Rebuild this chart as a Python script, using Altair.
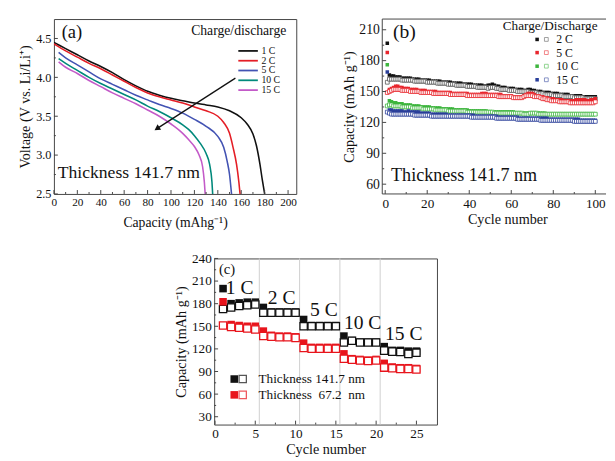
import altair as alt
import pandas as pd

FONT = "Liberation Serif"
INK = "#111111"
FRAME = "#444444"

# ---------------- panel (a): discharge curves ----------------
a_rates = ["1 C", "2 C", "5 C", "10 C", "15 C"]
a_colors = ["#111111", "#e41e26", "#4353b3", "#00897b", "#c35ac8"]
cap_1c = [0, 10, 20, 30, 40, 50, 60, 70, 80, 90, 100, 110, 120, 130, 140, 150, 160, 165, 170, 173, 176, 178, 180]
volt_1c = [4.45, 4.37, 4.29, 4.21, 4.14, 4.06, 3.97, 3.89, 3.82, 3.77, 3.73, 3.70, 3.67, 3.645, 3.62, 3.57, 3.48, 3.40, 3.27, 3.12, 2.88, 2.68, 2.50]
cap_2c = [0, 10, 20, 30, 40, 50, 60, 70, 80, 90, 100, 110, 120, 130, 140, 145, 150, 153, 156, 158, 159]
volt_2c = [4.43, 4.34, 4.26, 4.18, 4.11, 4.03, 3.95, 3.87, 3.80, 3.75, 3.71, 3.67, 3.62, 3.57, 3.50, 3.42, 3.28, 3.10, 2.88, 2.65, 2.50]
cap_5c = [4, 10, 20, 30, 40, 50, 60, 70, 80, 90, 100, 110, 120, 130, 140, 145, 148, 150, 151.7]
volt_5c = [4.32, 4.25, 4.16, 4.07, 3.98, 3.91, 3.84, 3.77, 3.71, 3.65, 3.60, 3.54, 3.46, 3.37, 3.24, 3.10, 2.92, 2.75, 2.50]
cap_10c = [4, 10, 20, 30, 40, 50, 60, 70, 80, 90, 100, 110, 115, 120, 125, 130, 133, 135, 135.6]
volt_10c = [4.24, 4.18, 4.09, 4.00, 3.92, 3.85, 3.78, 3.71, 3.63, 3.56, 3.48, 3.39, 3.33, 3.25, 3.15, 3.02, 2.88, 2.65, 2.50]
cap_15c = [4, 10, 20, 30, 40, 50, 60, 70, 80, 90, 100, 110, 115, 120, 124, 127, 128.5, 129.2]
volt_15c = [4.20, 4.13, 4.05, 3.96, 3.88, 3.80, 3.73, 3.66, 3.58, 3.50, 3.40, 3.28, 3.20, 3.11, 3.00, 2.85, 2.65, 2.50]
a_xticks = [0, 20, 40, 60, 80, 100, 120, 140, 160, 180, 200]
a_xminor = [10, 30, 50, 70, 90, 110, 130, 150, 170, 190]
a_yticks = [2.5, 3.0, 3.5, 4.0, 4.5]
a_yminor = [2.75, 3.25, 3.75, 4.25]
a_legend_y = [4.34, 4.214, 4.088, 3.962, 3.836]
a_arrow = {"x": [155], "y": [3.99], "x2": [88], "y2": [3.34]}

# ---------------- panel (b): cycling at different rates ----------------
b_rates = ["2 C", "5 C", "10 C", "15 C"]
b_colors = ["#111111", "#e8262d", "#3db53d", "#2a3f9a"]
b_open_colors = ["#555555", "#e8262d", "#3db53d", "#2a3f9a"]
b_2c_charge = [
    197, 166, 165, 165, 164, 164, 164, 163, 163, 163,
    163, 163, 162, 162, 162, 162, 161, 161, 161, 161,
    161, 160, 160, 160, 160, 160, 159, 159, 159, 159,
    159, 158, 158, 158, 158, 158, 157, 157, 157, 157,
    157, 156, 156, 156, 156, 156, 155, 155, 156, 156,
    157, 156, 155, 155, 154, 154, 154, 153, 153, 153,
    153, 152, 152, 152, 152, 151, 151, 152, 152, 151,
    151, 150, 150, 150, 149, 149, 149, 149, 148, 148,
    148, 148, 147, 147, 147, 147, 147, 146, 146, 146,
    146, 146, 146, 145, 145, 145, 145, 145, 145, 145]
b_2c_dis = [
    159, 162, 162, 162, 162, 162, 162, 161, 161, 161,
    161, 161, 161, 160, 160, 160, 160, 160, 160, 159,
    159, 159, 159, 159, 158, 158, 158, 158, 158, 157,
    157, 157, 157, 156, 156, 156, 156, 156, 155, 155,
    155, 155, 155, 154, 154, 154, 154, 154, 153, 154,
    154, 154, 153, 153, 152, 152, 152, 152, 151, 151,
    151, 151, 150, 150, 150, 150, 150, 150, 149, 149,
    149, 149, 148, 148, 148, 147, 147, 147, 147, 146,
    146, 146, 146, 146, 145, 145, 145, 145, 145, 144,
    144, 144, 144, 144, 143, 143, 143, 143, 143, 143]
b_5c_charge = [
    188, 152, 153, 154, 155, 155, 154, 154, 153, 153,
    153, 152, 152, 152, 152, 151, 151, 151, 151, 150,
    150, 150, 150, 150, 149, 149, 149, 149, 149, 149,
    149, 148, 148, 148, 148, 148, 148, 148, 148, 147,
    147, 147, 147, 147, 147, 148, 148, 148, 147, 147,
    147, 147, 147, 147, 147, 146, 146, 146, 146, 146,
    145, 145, 145, 145, 145, 146, 147, 148, 148, 148,
    147, 146, 146, 145, 145, 144, 144, 143, 143, 143,
    142, 142, 142, 142, 141, 141, 141, 141, 141, 141,
    142, 142, 142, 142, 142, 141, 141, 142, 142, 143]
b_5c_dis = [
    149, 150, 151, 152, 152, 152, 152, 151, 151, 151,
    151, 150, 150, 150, 150, 150, 149, 149, 149, 149,
    149, 149, 148, 148, 148, 148, 148, 148, 148, 148,
    147, 147, 147, 147, 147, 147, 147, 147, 146, 146,
    146, 146, 146, 146, 146, 146, 146, 146, 146, 146,
    146, 146, 146, 145, 145, 145, 145, 145, 145, 145,
    144, 144, 144, 144, 144, 145, 146, 146, 146, 146,
    145, 145, 145, 144, 143, 143, 142, 142, 141, 141,
    141, 141, 140, 140, 140, 140, 140, 139, 139, 139,
    139, 139, 139, 139, 139, 139, 139, 139, 139, 140]
b_10c_charge = [
    176, 141, 140, 139, 139, 138, 138, 138, 137, 137,
    137, 137, 136, 136, 136, 136, 135, 135, 135, 135,
    135, 134, 134, 134, 134, 134, 133, 133, 133, 133,
    133, 133, 132, 132, 132, 132, 132, 132, 132, 131,
    131, 131, 131, 131, 131, 131, 131, 131, 130, 130,
    130, 130, 130, 130, 130, 130, 130, 130, 130, 130,
    130, 129, 129, 129, 129, 129, 129, 129, 129, 129,
    129, 129, 129, 129, 129, 129, 128, 128, 128, 128,
    128, 128, 128, 128, 128, 128, 128, 128, 128, 128,
    128, 128, 128, 128, 128, 128, 128, 128, 128, 128]
b_10c_dis = [
    136, 137, 137, 136, 136, 136, 136, 135, 135, 135,
    135, 135, 134, 134, 134, 134, 134, 133, 133, 133,
    133, 133, 133, 132, 132, 132, 132, 132, 132, 131,
    131, 131, 131, 131, 131, 131, 131, 131, 130, 130,
    130, 130, 130, 130, 130, 130, 130, 130, 130, 130,
    130, 129, 129, 129, 129, 129, 129, 129, 129, 129,
    129, 129, 129, 129, 129, 128, 128, 128, 129, 129,
    129, 129, 128, 128, 128, 128, 128, 128, 128, 128,
    128, 128, 128, 128, 128, 128, 128, 128, 128, 128,
    128, 128, 128, 128, 128, 128, 128, 128, 128, 128]
b_15c_charge = [
    169, 132, 132, 131, 131, 131, 131, 131, 130, 130,
    131, 130, 130, 130, 130, 130, 129, 129, 129, 129,
    129, 128, 128, 128, 128, 128, 128, 128, 128, 127,
    127, 127, 127, 127, 127, 127, 127, 127, 127, 127,
    127, 127, 126, 126, 126, 126, 126, 126, 126, 126,
    126, 126, 126, 125, 125, 125, 125, 125, 125, 125,
    125, 125, 125, 124, 124, 124, 124, 124, 124, 124,
    124, 124, 124, 124, 124, 124, 124, 123, 123, 123,
    123, 123, 123, 123, 123, 123, 123, 123, 123, 123,
    123, 123, 122, 122, 122, 122, 122, 122, 122, 122]
b_15c_dis = [
    130, 129, 128, 128, 128, 128, 128, 128, 128, 128,
    128, 128, 128, 127, 127, 127, 127, 127, 127, 127,
    127, 126, 126, 126, 126, 126, 126, 126, 126, 126,
    126, 126, 126, 126, 126, 126, 126, 126, 126, 126,
    125, 125, 125, 125, 125, 125, 125, 125, 125, 125,
    125, 125, 124, 124, 124, 124, 124, 124, 124, 124,
    124, 124, 123, 123, 123, 123, 123, 123, 123, 123,
    123, 123, 123, 122, 122, 122, 122, 122, 122, 122,
    122, 122, 122, 122, 122, 122, 122, 122, 122, 121,
    121, 121, 121, 121, 121, 121, 121, 121, 121, 121]
b_xticks = [0, 20, 40, 60, 80, 100]
b_xminor = [10, 30, 50, 70, 90]
b_yticks = [60, 90, 120, 150, 180, 210]
b_yminor = [75, 105, 135, 165, 195]
b_legend_y = [200.6, 187.8, 174.6, 161.4]

# ---------------- panel (c): rate capability ----------------
c_cycles = list(range(1, 26))
c_thick_charge = [200, 180, 181, 182, 182, 175, 169, 169, 169, 169, 159, 151, 151, 151, 151,
                  137, 131, 129, 129, 129, 123, 118, 118, 117, 117]
c_thick_dis = [173, 175, 177, 178, 179, 168, 168, 168, 168, 168, 150, 150, 150, 150, 150,
               128.5, 130.7, 128.5, 128.5, 128.5, 117.7, 116.4, 116, 113.4, 115]
c_thin_charge = [182.5, 152.3, 151, 150, 150, 143.6, 138, 137, 137, 136, 127.6, 122, 122, 122, 122,
                 113.4, 107, 106, 105, 106, 100.8, 96, 95, 95, 94]
c_thin_dis = [151, 149.2, 148, 147, 145.8, 137, 136.3, 135.4, 135.4, 134.6, 121.2, 120.3, 120.3, 120.3, 120.3,
              106.9, 105.6, 104.7, 103.9, 104.7, 95.2, 94.4, 93.5, 93.5, 92.6]
c_samples = ["Thickness 141.7 nm", "Thickness\u00a0\u00a067.2\u00a0\u00a0nm"]
c_colors = ["#111111", "#e8141c"]
c_separators = [5.5, 10.5, 15.5, 20.5]
c_rate_labels = ["1 C", "2 C", "5 C", "10 C", "15 C"]
c_rate_x = [1.35, 6.55, 11.8, 16.0, 21.1]
c_rate_y = [200, 187, 171, 154, 139]
c_xticks = [0, 5, 10, 15, 20, 25]
c_xminor = [2.5, 7.5, 12.5, 17.5, 22.5]
c_yticks = [30, 60, 90, 120, 150, 180, 210, 240]
c_yminor = [45, 75, 105, 135, 165, 195, 225]


def text_layer(xs, ys, texts, xsc, ysc, xax, yax, size, align="left", color=INK):
    df = pd.DataFrame({"x": xs, "y": ys, "t": texts})
    return alt.Chart(df).mark_text(font=FONT, fontSize=size, align=align, baseline="middle",
                                   color=color).encode(
        x=alt.X("x:Q", scale=xsc, axis=xax), y=alt.Y("y:Q", scale=ysc, axis=yax), text="t:N")


def tick_layers(xmaj, xmin, ymaj, ymin, H, xsc, ysc, xax, yax):
    out = []
    for vals, L in ((xmaj, 4), (xmin, 2)):
        out.append(alt.Chart(pd.DataFrame({"x": vals})).mark_rule(color=FRAME, strokeWidth=1).encode(
            x=alt.X("x:Q", scale=xsc, axis=xax), y=alt.value(H), y2=alt.value(H - L)))
    for vals, L in ((ymaj, 4), (ymin, 2)):
        out.append(alt.Chart(pd.DataFrame({"y": vals})).mark_rule(color=FRAME, strokeWidth=1).encode(
            y=alt.Y("y:Q", scale=ysc, axis=yax), x=alt.value(0), x2=alt.value(L)))
    return out


# ---------- build (a) ----------
AW, AH = 248, 179
a_xs = alt.Scale(domain=[0, 207], nice=False, zero=False)
a_ys = alt.Scale(domain=[2.5, 4.75], nice=False, zero=False)
a_xax = alt.Axis(title="Capacity (mAhg\u207b\u00b9)", values=a_xticks, labelFontSize=11.5, titleFontSize=14,
                 labelPadding=3, titlePadding=8, labelFlush=False, labelOverlap=False)
a_yax = alt.Axis(title="Voltage (V vs. Li/Li\u207a)", values=a_yticks, format=".1f", labelFontSize=12.5,
                 titleFontSize=14.5, labelPadding=3, titlePadding=3, labelOverlap=False)
rows = []
for r, caps, vs in zip(a_rates, [cap_1c, cap_2c, cap_5c, cap_10c, cap_15c],
                       [volt_1c, volt_2c, volt_5c, volt_10c, volt_15c]):
    for c, v in zip(caps, vs):
        rows.append({"x": c, "y": v, "rate": r})
dfa = pd.DataFrame(rows)
a_col = alt.Color("rate:N", scale=alt.Scale(domain=a_rates, range=a_colors), legend=None)
a_lines = alt.Chart(dfa).mark_line(strokeWidth=1.6, interpolate="monotone", clip=True).encode(
    x=alt.X("x:Q", scale=a_xs, axis=a_xax), y=alt.Y("y:Q", scale=a_ys, axis=a_yax), color=a_col)
dfal = pd.DataFrame({"x": [157.5] * 5, "x2": [174.2] * 5, "y": a_legend_y, "rate": a_rates})
a_leg_lines = alt.Chart(dfal).mark_rule(strokeWidth=1.8).encode(
    x=alt.X("x:Q", scale=a_xs, axis=a_xax), x2="x2:Q", y=alt.Y("y:Q", scale=a_ys, axis=a_yax), color=a_col)
a_leg_text = text_layer([177.2] * 5, a_legend_y, a_rates, a_xs, a_ys, a_xax, a_yax, 10)
a_title_text = text_layer([198.5], [4.595], ["Charge/discharge"], a_xs, a_ys, a_xax, a_yax, 14, align="right")
a_label = text_layer([15.4], [4.58], ["(a)"], a_xs, a_ys, a_xax, a_yax, 19, align="center")
a_thick = text_layer([3.3], [2.764], ["Thickness 141.7 nm"], a_xs, a_ys, a_xax, a_yax, 18)
dfarr = pd.DataFrame(a_arrow)
a_arrow_line = alt.Chart(dfarr).mark_rule(color=INK, strokeWidth=1.3).encode(
    x=alt.X("x:Q", scale=a_xs, axis=a_xax), y=alt.Y("y:Q", scale=a_ys, axis=a_yax), x2="x2:Q", y2="y2:Q")
a_arrow_head = alt.Chart(dfarr).mark_point(shape="triangle-up", filled=True, size=45, angle=237,
                                           color=INK, opacity=1).encode(
    x=alt.X("x2:Q", scale=a_xs, axis=a_xax), y=alt.Y("y2:Q", scale=a_ys, axis=a_yax))
pa = alt.layer(a_lines, a_leg_lines, a_leg_text, a_title_text, a_label, a_thick, a_arrow_line, a_arrow_head,
               *tick_layers(a_xticks, a_xminor, a_yticks, a_yminor, AH, a_xs, a_ys, a_xax, a_yax)
               ).properties(width=AW, height=AH)

# ---------- build (b) ----------
BW, BH = 229, 179
b_xs = alt.Scale(domain=[-1.4, 105.1], nice=False, zero=False)
b_ys = alt.Scale(domain=[50.5, 220.4], nice=False, zero=False)
b_xax = alt.Axis(title="Cycle number", values=b_xticks, labelFontSize=13.5, titleFontSize=14.5,
                 labelPadding=3, titlePadding=3, titleX=128, labelFlush=False, labelOverlap=False)
b_yax = alt.Axis(title="Capacity (mAh g\u207b\u00b9)", values=b_yticks, labelFontSize=14, titleFontSize=14.5,
                 labelPadding=3, titlePadding=2, labelOverlap=False)
b_layers = []
for r, ch, di, fc, oc, ly in zip(b_rates, [b_2c_charge, b_5c_charge, b_10c_charge, b_15c_charge],
                                 [b_2c_dis, b_5c_dis, b_10c_dis, b_15c_dis], b_colors, b_open_colors,
                                 b_legend_y):
    dfc = pd.DataFrame({"x": list(range(1, len(ch) + 1)), "y": ch})
    dfd = pd.DataFrame({"x": list(range(1, len(di) + 1)), "y": di})
    b_layers.append(alt.Chart(dfc).mark_square(size=13, color=fc, opacity=1, clip=True).encode(
        x=alt.X("x:Q", scale=b_xs, axis=b_xax), y=alt.Y("y:Q", scale=b_ys, axis=b_yax)))
    b_layers.append(alt.Chart(dfd).mark_square(size=15, fill="white", fillOpacity=1, stroke=oc,
                                               strokeWidth=0.8, clip=True).encode(
        x=alt.X("x:Q", scale=b_xs, axis=b_xax), y=alt.Y("y:Q", scale=b_ys, axis=b_yax)))
    dfl = pd.DataFrame({"x": [72.3], "x2": [76.7], "y": [ly]})
    b_layers.append(alt.Chart(dfl).mark_square(size=13, color=fc, opacity=1).encode(
        x=alt.X("x:Q", scale=b_xs, axis=b_xax), y=alt.Y("y:Q", scale=b_ys, axis=b_yax)))
    b_layers.append(alt.Chart(dfl).mark_square(size=15, fill="white", stroke=oc, strokeWidth=0.8).encode(
        x=alt.X("x2:Q", scale=b_xs, axis=b_xax), y=alt.Y("y:Q", scale=b_ys, axis=b_yax)))
b_layers.append(text_layer([81.4] * 4, b_legend_y, b_rates, b_xs, b_ys, b_xax, b_yax, 12))
b_layers.append(text_layer([78.5], [213.2], ["Charge/Discharge"], b_xs, b_ys, b_xax, b_yax, 13.5, align="center"))
b_layers.append(text_layer([9.1], [207.4], ["(b)"], b_xs, b_ys, b_xax, b_yax, 20, align="center"))
b_layers.append(text_layer([2.8], [68.3], ["Thickness 141.7 nm"], b_xs, b_ys, b_xax, b_yax, 18.5))
b_layers += tick_layers(b_xticks, b_xminor, b_yticks, b_yminor, BH, b_xs, b_ys, b_xax, b_yax)
one = pd.DataFrame({"k": [0]})
b_layers.append(alt.Chart(one).mark_rule(color=FRAME, strokeWidth=1).encode(
    x=alt.value(0), x2=alt.value(BW), y=alt.value(0)))
b_layers.append(alt.Chart(one).mark_rule(color=FRAME, strokeWidth=1).encode(
    x=alt.value(0), x2=alt.value(BW), y=alt.value(BH)))
b_layers.append(alt.Chart(one).mark_rule(color=FRAME, strokeWidth=1).encode(
    x=alt.value(0), y=alt.value(0), y2=alt.value(BH)))
pb = alt.layer(*b_layers).properties(width=BW, height=BH, view=alt.ViewBackground(strokeOpacity=0))

# ---------- build (c) ----------
CW, CH = 228, 170
c_xs = alt.Scale(domain=[-0.1, 27.55], nice=False, zero=False)
c_ys = alt.Scale(domain=[19.6, 240], nice=False, zero=False)
c_xax = alt.Axis(title="Cycle number", values=c_xticks, labelFontSize=13.5, titleFontSize=14.5,
                 labelPadding=2, titlePadding=3, labelFlush=False, labelOverlap=False)
c_yax = alt.Axis(title="Capacity (mAh g\u207b\u00b9)", values=c_yticks, labelFontSize=13.5, titleFontSize=14.5,
                 labelPadding=3, titlePadding=3, labelOverlap=False)
c_seps = alt.Chart(pd.DataFrame({"x": c_separators})).mark_rule(color="#cfcfcf", strokeWidth=1).encode(
    x=alt.X("x:Q", scale=c_xs, axis=c_xax))
c_layers = [c_seps]
for col, ch, di in ((c_colors[0], c_thick_charge, c_thick_dis), (c_colors[1], c_thin_charge, c_thin_dis)):
    c_layers.append(alt.Chart(pd.DataFrame({"x": c_cycles, "y": ch})).mark_square(
        size=60, color=col, opacity=1).encode(
        x=alt.X("x:Q", scale=c_xs, axis=c_xax), y=alt.Y("y:Q", scale=c_ys, axis=c_yax)))
    c_layers.append(alt.Chart(pd.DataFrame({"x": c_cycles, "y": di})).mark_square(
        size=56, fill="white", fillOpacity=1, stroke=col, strokeWidth=1.3).encode(
        x=alt.X("x:Q", scale=c_xs, axis=c_xax), y=alt.Y("y:Q", scale=c_ys, axis=c_yax)))
c_leg_y = [80, 59]
for i, sample in enumerate(c_samples):
    dfl = pd.DataFrame({"x": [2.39], "x2": [3.44], "y": [c_leg_y[i]]})
    c_layers.append(alt.Chart(dfl).mark_square(size=60, color=c_colors[i], opacity=1).encode(
        x=alt.X("x:Q", scale=c_xs, axis=c_xax), y=alt.Y("y:Q", scale=c_ys, axis=c_yax)))
    c_layers.append(alt.Chart(dfl).mark_square(size=56, fill="white", stroke=c_colors[i], strokeWidth=1.3).encode(
        x=alt.X("x2:Q", scale=c_xs, axis=c_xax), y=alt.Y("y:Q", scale=c_ys, axis=c_yax)))
c_layers.append(text_layer([5.4, 5.4], c_leg_y, c_samples, c_xs, c_ys, c_xax, c_yax, 13.5))
c_layers.append(text_layer(c_rate_x, c_rate_y, c_rate_labels, c_xs, c_ys, c_xax, c_yax, 20))
c_layers.append(text_layer([1.5], [225.5], ["(c)"], c_xs, c_ys, c_xax, c_yax, 15, align="center"))
c_layers += tick_layers(c_xticks, c_xminor, c_yticks, c_yminor, CH, c_xs, c_ys, c_xax, c_yax)
pc = alt.layer(*c_layers).properties(width=CW, height=CH)

spacer = alt.Chart(pd.DataFrame({"x": [0]})).mark_point(opacity=0).encode(
    x=alt.value(0), y=alt.value(0)).properties(width=1, height=CH, view=alt.ViewBackground(strokeOpacity=0))

top = alt.hconcat(pa, pb, spacing=88, bounds="flush")
bottom = alt.hconcat(spacer, pc, spacing=163, bounds="flush")
chart = alt.vconcat(top, bottom, spacing=21).properties(
    padding={"left": 9, "top": 5, "right": 0, "bottom": 0}
).configure_view(stroke=FRAME, strokeWidth=1).configure_axis(
    labelFont=FONT, titleFont=FONT, titleFontWeight="normal", labelColor=INK, titleColor=INK,
    ticks=False, domain=False, grid=False)

chart.save("out.html", embed_options={"renderer": "svg", "actions": False})
